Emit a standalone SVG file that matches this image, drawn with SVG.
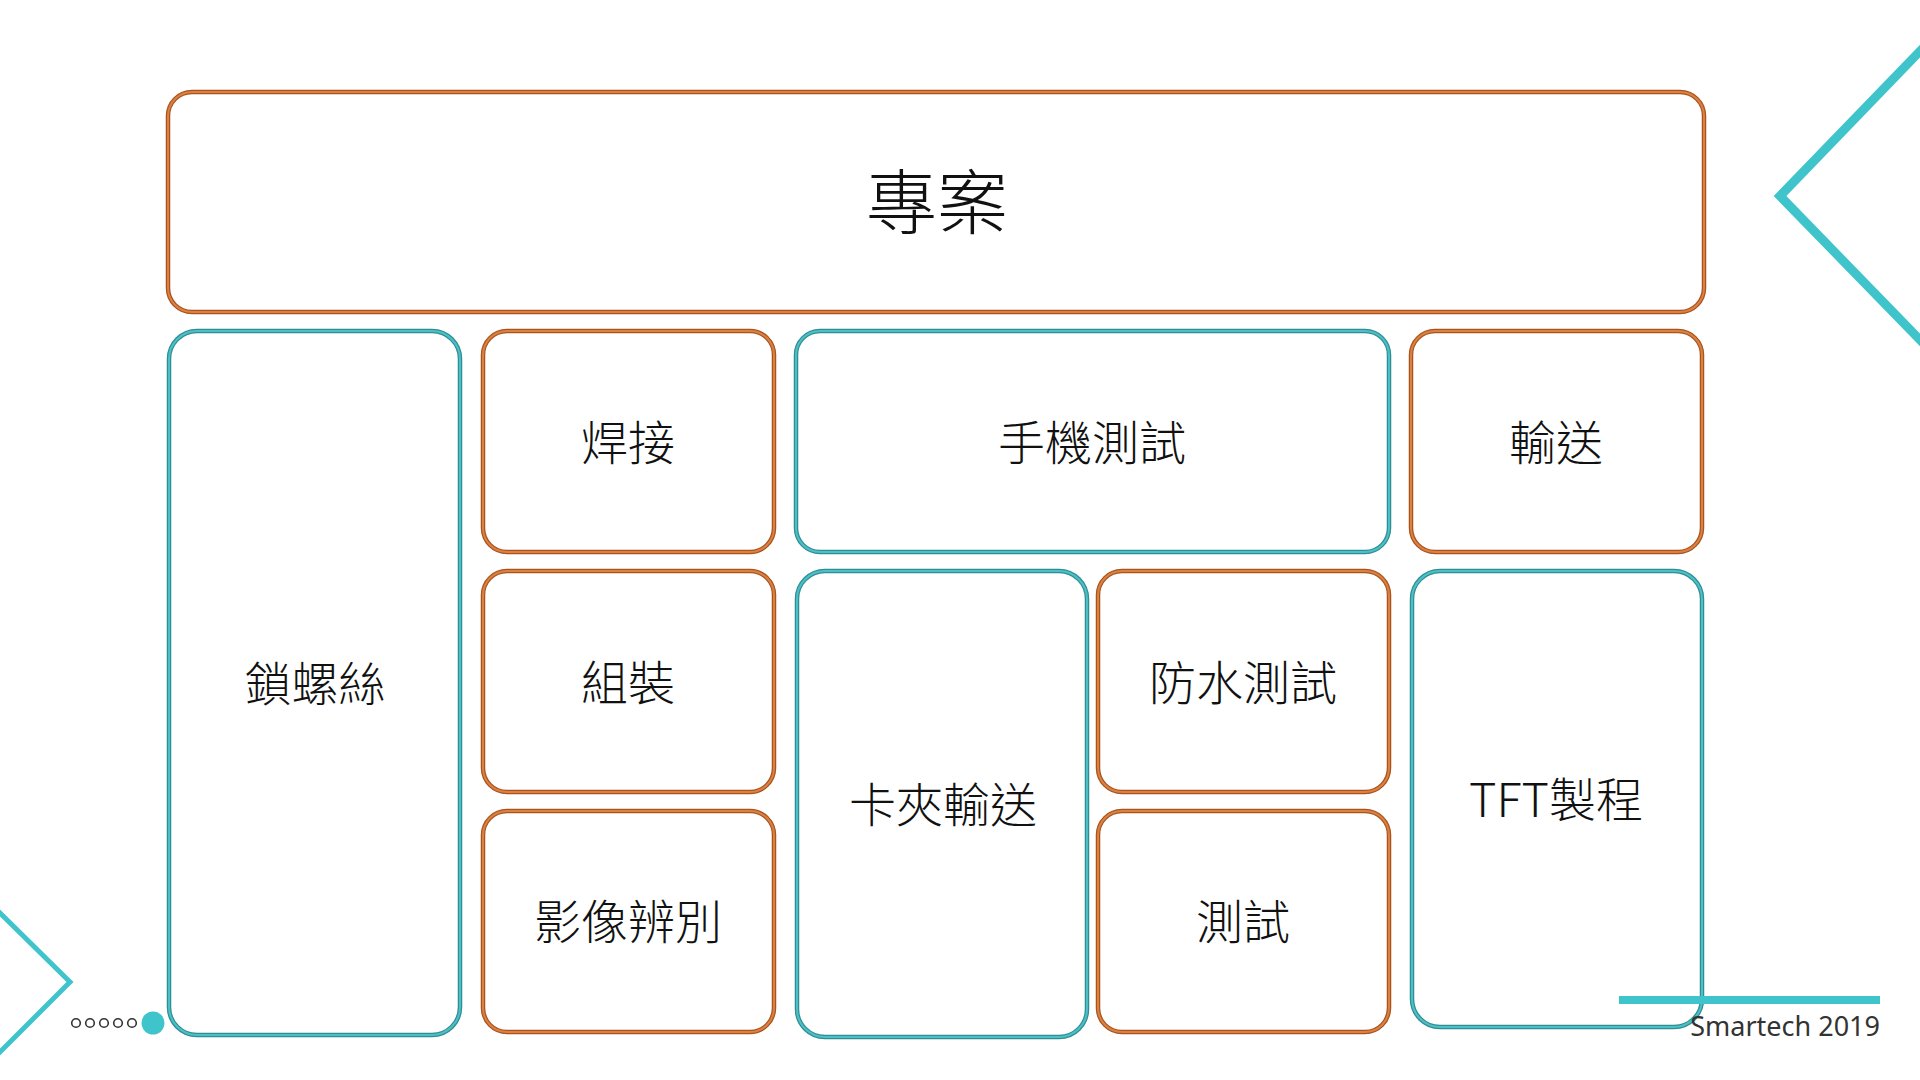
<svg xmlns="http://www.w3.org/2000/svg" width="1920" height="1080" viewBox="0 0 1920 1080">
<style>
.o1{fill:#fff;stroke:#A9531F;stroke-width:4.5}
.o2{fill:none;stroke:#DB8241;stroke-width:2}
.t1{fill:#fff;stroke:#2F8E94;stroke-width:4.5}
.t2{fill:none;stroke:#4CC0C6;stroke-width:2}
.lbl{font-family:"Noto Sans CJK TC","Noto Sans",sans-serif;font-weight:300;font-size:47px;fill:#111;text-anchor:middle;dominant-baseline:central}
.big{font-size:71px}
.deco{fill:none;stroke:#40C4CB}
</style>
<rect width="1920" height="1080" fill="#fff"/>
<g id="decor">
<polyline class="deco" stroke-width="5" points="-4,909 70,982 -4,1056"/>
<polyline class="deco" stroke-width="9" points="1924,47 1780,196 1924,344"/>
<g fill="none" stroke="#333" stroke-width="1.6">
<circle cx="76" cy="1023" r="4.3"/><circle cx="90" cy="1023" r="4.3"/><circle cx="104" cy="1023" r="4.3"/><circle cx="118" cy="1023" r="4.3"/><circle cx="132" cy="1023" r="4.3"/>
</g>
<circle cx="153" cy="1023" r="11.5" fill="#40C4CB"/>
</g>
<g id="n-project"><rect class="o1" x="168" y="92" width="1536" height="220" rx="24"/><rect class="o2" x="168" y="92" width="1536" height="220" rx="24"/><text class="lbl big" x="937" y="197">專案</text></g>
<g id="n-screw"><rect class="t1" x="169" y="331" width="291" height="704" rx="28"/><rect class="t2" x="169" y="331" width="291" height="704" rx="28"/><text class="lbl" x="315" y="680">鎖螺絲</text></g>
<g id="n-weld"><rect class="o1" x="483" y="331" width="291" height="221" rx="24"/><rect class="o2" x="483" y="331" width="291" height="221" rx="24"/><text class="lbl" x="628" y="439">焊接</text></g>
<g id="n-phone"><rect class="t1" x="796" y="331" width="593" height="221" rx="24"/><rect class="t2" x="796" y="331" width="593" height="221" rx="24"/><text class="lbl" x="1092" y="439">手機測試</text></g>
<g id="n-convey"><rect class="o1" x="1411" y="331" width="291" height="221" rx="24"/><rect class="o2" x="1411" y="331" width="291" height="221" rx="24"/><text class="lbl" x="1556" y="439">輸送</text></g>
<g id="n-assemble"><rect class="o1" x="483" y="571" width="291" height="221" rx="24"/><rect class="o2" x="483" y="571" width="291" height="221" rx="24"/><text class="lbl" x="628" y="679">組裝</text></g>
<g id="n-vision"><rect class="o1" x="483" y="811" width="291" height="221" rx="24"/><rect class="o2" x="483" y="811" width="291" height="221" rx="24"/><text class="lbl" x="628" y="918">影像辨別</text></g>
<g id="n-clip"><rect class="t1" x="797" y="571" width="290" height="466" rx="28"/><rect class="t2" x="797" y="571" width="290" height="466" rx="28"/><text class="lbl" x="943" y="801">卡夾輸送</text></g>
<g id="n-water"><rect class="o1" x="1098" y="571" width="291" height="221" rx="24"/><rect class="o2" x="1098" y="571" width="291" height="221" rx="24"/><text class="lbl" x="1243" y="679">防水測試</text></g>
<g id="n-test"><rect class="o1" x="1098" y="811" width="291" height="221" rx="24"/><rect class="o2" x="1098" y="811" width="291" height="221" rx="24"/><text class="lbl" x="1243" y="918">測試</text></g>
<g id="n-tft"><rect class="t1" x="1412" y="571" width="290" height="456" rx="28"/><rect class="t2" x="1412" y="571" width="290" height="456" rx="28"/><text class="lbl" x="1556" y="796">TFT製程</text></g>
<g id="connectors"></g>
<g id="footer">
<rect x="1619" y="996" width="261" height="8" fill="#40C4CB"/>
<text x="1880" y="1036" font-family="'Noto Sans','Noto Sans CJK TC',sans-serif" font-size="27" fill="#333" text-anchor="end">Smartech 2019</text>
</g>
</svg>
